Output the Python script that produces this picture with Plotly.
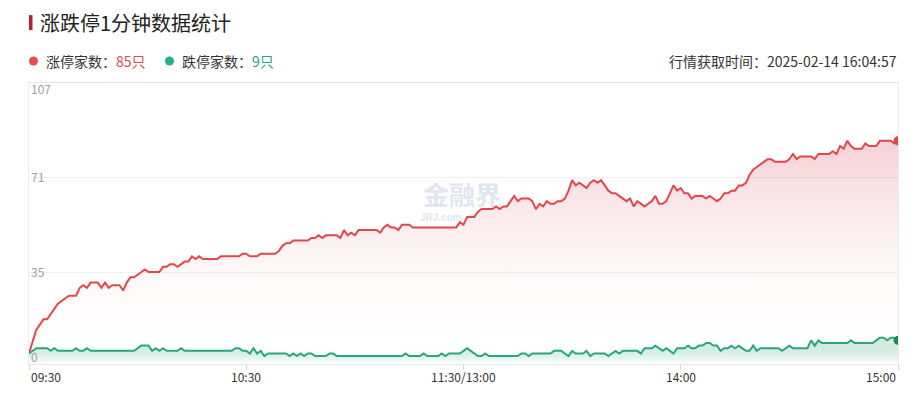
import plotly.graph_objects as go

# ---- data ----
tick_positions = [0, 60, 120, 180, 240]
tick_labels = ["09:30", "10:30", "11:30/13:00", "14:00", "15:00"]
y_ticks = [0, 35, 71, 107]

limit_up = [4, 9, 13, 15, 17, 17, 19, 21, 23, 24,
            25, 26, 26, 26, 29, 30, 29, 31, 31, 31,
            29, 31, 29, 30, 30, 30, 28, 31, 33, 33,
            34, 35, 36, 35, 35, 35, 35, 37, 37, 38,
            38, 37, 38, 39, 39, 41, 40, 41, 40, 40,
            40, 40, 40, 41, 41, 41, 41, 41, 41, 42,
            42, 41, 41, 41, 42, 42, 42, 42, 42, 43,
            45, 46, 46, 47, 47, 47, 47, 47, 48, 48,
            49, 48, 49, 49, 49, 49, 48, 51, 49, 50,
            49, 51, 51, 51, 51, 51, 51, 50, 52, 53,
            52, 52, 51, 53, 53, 53, 52, 52, 52, 52,
            52, 52, 52, 52, 52, 52, 52, 52, 52, 54,
            53, 56, 56, 56, 58, 59, 59, 59, 59, 60,
            59, 60, 60, 62, 64, 62, 63, 63, 63, 62,
            59, 61, 60, 62, 61, 61, 62, 62, 63, 66,
            70, 68, 69, 68, 67, 69, 70, 69, 70, 68,
            66, 65, 65, 64, 63, 62, 63, 60, 62, 61,
            60, 61, 62, 64, 61, 61, 62, 65, 68, 66,
            67, 65, 65, 63, 64, 64, 64, 63, 64, 63,
            62, 63, 65, 65, 66, 66, 68, 68, 69, 72,
            74, 75, 76, 77, 78, 78, 77, 77, 77, 77,
            78, 80, 78, 79, 79, 79, 79, 78, 80, 80,
            80, 80, 81, 80, 83, 82, 85, 83, 82, 82,
            82, 84, 83, 83, 83, 85, 85, 85, 85, 84,
            85]

limit_down = [4, 5, 6, 6, 6, 6, 5, 6, 5, 5,
              5, 5, 5, 6, 5, 5, 6, 5, 5, 5,
              5, 5, 5, 5, 5, 5, 5, 5, 5, 5,
              6, 7, 7, 7, 5, 6, 5, 6, 5, 5,
              5, 5, 6, 5, 5, 5, 5, 5, 5, 5,
              5, 5, 5, 5, 5, 5, 5, 6, 6, 5,
              5, 4, 6, 4, 5, 3, 4, 4, 4, 4,
              4, 4, 3, 4, 3, 4, 3, 4, 4, 3,
              3, 3, 3, 4, 4, 3, 3, 3, 3, 3,
              3, 3, 3, 3, 3, 3, 3, 3, 3, 3,
              3, 3, 3, 3, 4, 3, 3, 3, 3, 4,
              3, 3, 3, 3, 4, 3, 4, 4, 4, 4,
              5, 6, 5, 4, 3, 3, 4, 3, 3, 3,
              3, 3, 3, 3, 3, 3, 4, 4, 3, 4,
              4, 4, 4, 4, 4, 5, 5, 5, 4, 3,
              5, 4, 4, 4, 5, 3, 4, 4, 4, 4,
              3, 4, 5, 4, 5, 5, 5, 5, 5, 4,
              6, 6, 6, 7, 6, 5, 6, 5, 4, 6,
              6, 6, 7, 6, 6, 7, 7, 8, 8, 7,
              7, 5, 6, 6, 7, 6, 7, 6, 5, 5,
              7, 5, 6, 6, 6, 6, 6, 6, 5, 6,
              7, 6, 6, 6, 6, 6, 9, 7, 9, 8,
              8, 8, 8, 8, 8, 8, 8, 9, 8, 8,
              8, 8, 8, 8, 9, 10, 10, 9, 10, 10,
              9]

x_idx = list(range(len(limit_up)))

title_text = "涨跌停1分钟数据统计"
up_label = "涨停家数："
down_label = "跌停家数："
time_text = "行情获取时间：2025-02-14 16:04:57"

RED = "#e2474d"
GREEN = "#2aa775"
FONT = "Noto Sans CJK SC"

# page offset from the default body margin
OFF = 8
W, H = 920 - OFF, 394 - OFF
# plot box in page pixels: left 29, right 898, top 83, bottom 364.5
L, R, T, B = 29 - OFF, (920 - OFF) - (898 - OFF), 83 - OFF, (394 - OFF) - (364.5 - OFF)
PW, PH = W - L - R, H - T - B


def px(x):
    return (x - OFF - L) / PW


def py(y):
    return (H - B - (y - OFF)) / PH


fig = go.Figure()

fig.add_trace(go.Scatter(
    x=x_idx, y=limit_up, mode="lines", name="涨停家数",
    line=dict(color=RED, width=2),
    fill="tozeroy",
    fillgradient=dict(type="vertical",
                      colorscale=[[0, "rgba(255,255,255,0.0)"],
                                  [1, "rgba(226,110,125,0.32)"]]),
    hoverinfo="skip",
))
fig.add_trace(go.Scatter(
    x=x_idx, y=limit_down, mode="lines", name="跌停家数",
    line=dict(color=GREEN, width=2),
    fill="tozeroy",
    fillgradient=dict(type="vertical",
                      colorscale=[[0, "rgba(255,255,255,0.6)"],
                                  [1, "rgba(42,167,117,0.18)"]]),
    hoverinfo="skip",
))
# end markers
fig.add_trace(go.Scatter(x=[x_idx[-1]], y=[limit_up[-1]], mode="markers",
                         marker=dict(color=RED, size=9), hoverinfo="skip"))
fig.add_trace(go.Scatter(x=[x_idx[-1]], y=[limit_down[-1]], mode="markers",
                         marker=dict(color="#1f8a4c", size=9), hoverinfo="skip"))

annotations = []
# y labels
for v in y_ticks:
    if v == y_ticks[-1]:
        ya, ys = "top", 5
    elif v == 0:
        ya, ys = "bottom", -3
    else:
        ya, ys = "middle", 1
    annotations.append(dict(x=0, xref="paper", xanchor="left", y=v, yref="y",
                            yanchor=ya, yshift=ys, text=str(v), showarrow=False,
                            font=dict(family=FONT, size=12, color="#a0a0a0")))
# x labels
for i, (pos, lab) in enumerate(zip(tick_positions, tick_labels)):
    xa = "left" if i == 0 else ("right" if i == len(tick_labels) - 1 else "center")
    annotations.append(dict(x=pos, xref="x", xanchor=xa, y=0, yref="paper",
                            yanchor="top", yshift=-2, text=lab, showarrow=False,
                            font=dict(family=FONT, size=12, color="#333333")))
# title
annotations.append(dict(x=px(38), xref="paper", xanchor="left", y=py(22), yref="paper",
                        yanchor="middle", text=title_text, showarrow=False,
                        font=dict(family=FONT, size=20, color="#222222")))
# legend texts
annotations.append(dict(x=px(44), xref="paper", xanchor="left", y=py(61), yref="paper",
                        yanchor="middle",
                        text=up_label + "<span style='color:%s'>%d只</span>" % (RED, limit_up[-1]),
                        showarrow=False, font=dict(family=FONT, size=14, color="#333333")))
annotations.append(dict(x=px(180), xref="paper", xanchor="left", y=py(61), yref="paper",
                        yanchor="middle",
                        text=down_label + "<span style='color:%s'>%d只</span>" % (GREEN, limit_down[-1]),
                        showarrow=False, font=dict(family=FONT, size=14, color="#333333")))
annotations.append(dict(x=px(899), xref="paper", xanchor="right", y=py(61), yref="paper",
                        yanchor="middle", text=time_text, showarrow=False,
                        font=dict(family=FONT, size=14, color="#333333")))
# watermark
annotations.append(dict(x=px(462), xref="paper", xanchor="center", y=py(194), yref="paper",
                        yanchor="middle", text="<b>金融界</b>", showarrow=False, opacity=0.55,
                        font=dict(family=FONT, size=26, color="#c9d3e6")))
annotations.append(dict(x=px(418), xref="paper", xanchor="left", y=py(218), yref="paper",
                        yanchor="middle", text="<b>JRJ.com</b>", showarrow=False, opacity=0.55,
                        font=dict(family="Liberation Sans", size=10, color="#c9d3e6")))

shapes = [
    dict(type="rect", xref="paper", yref="paper", x0=px(29), x1=px(32.5),
         y0=py(30), y1=py(15), fillcolor="#b3203a", line=dict(width=0)),
    dict(type="circle", xref="paper", yref="paper", x0=px(29), x1=px(38),
         y0=py(65.5), y1=py(56.5), fillcolor="#e84a50", line=dict(width=0)),
    dict(type="circle", xref="paper", yref="paper", x0=px(165), x1=px(174),
         y0=py(65.5), y1=py(56.5), fillcolor="#25b57a", line=dict(width=0)),
]

fig.update_layout(
    width=W, height=H,
    margin=dict(l=L, r=R, t=T, b=B, pad=0),
    paper_bgcolor="white", plot_bgcolor="white",
    showlegend=False,
    annotations=annotations,
    shapes=shapes,
    xaxis=dict(range=[0, 240], tickvals=tick_positions, showticklabels=False,
               ticks="outside", ticklen=5, tickcolor="#d6d6d6",
               showgrid=False, zeroline=False, showline=True, linecolor="#e6e6e6",
               mirror=True, fixedrange=True),
    yaxis=dict(range=[0, 107], tickvals=y_ticks, showticklabels=False,
               showgrid=True, gridcolor="#efefef", gridwidth=1, zeroline=False,
               showline=True, linecolor="#ececec", mirror=True, fixedrange=True),
)

fig.write_html("out.html")
